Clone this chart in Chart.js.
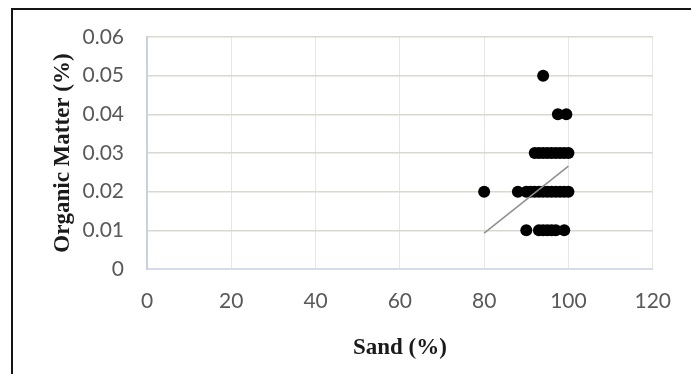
<!DOCTYPE html>
<html><head><meta charset="utf-8">
<script src="https://cdn.jsdelivr.net/npm/chart.js@4"></script>
<style>
html,body{margin:0;padding:0;background:#fff;width:691px;height:374px;overflow:hidden}
#wrap{position:absolute;left:0;top:0;width:691px;height:374px}
#frame{position:absolute;left:11px;top:8px;width:680px;height:366px;border-left:2px solid #151515;border-top:2px solid #151515;box-sizing:border-box;pointer-events:none}
</style></head><body>
<div id="wrap"><canvas id="c" width="691" height="374"></canvas></div>
<div id="frame"></div>
<script>
// Organic matter levels and sand values observed at each level
const omLevels = [0.01, 0.02, 0.03, 0.04, 0.05];
const sandAt001 = [90, 93, 94, 95, 96, 97, 99];
const sandAt002 = [80, 88, 90, 91, 92, 93, 94, 95, 96, 97, 98, 99, 100];
const sandAt003 = [92, 93, 94, 95, 96, 97, 98, 99, 100];
const sandAt004 = [97.5, 99.5];
const sandAt005 = [94];
const sandByLevel = [sandAt001, sandAt002, sandAt003, sandAt004, sandAt005];
// Linear trendline end points
const trendSand = [80, 100];
const trendOM = [0.0093, 0.0266];
// Axis ticks
const xTicks = [0, 20, 40, 60, 80, 100, 120];
const yTicks = [0, 0.01, 0.02, 0.03, 0.04, 0.05, 0.06];

const points = [];
sandByLevel.forEach((arr, i) => arr.forEach(s => points.push({x: s, y: omLevels[i]})));
const trend = trendSand.map((s, i) => ({x: s, y: trendOM[i]}));

const tickFont = {family: 'Lato', size: 21};
const titleFont = {family: 'Liberation Serif', size: 23, weight: 'bold'};

new Chart(document.getElementById('c'), {
  type: 'scatter',
  data: {
    datasets: [
      {label: 'Trend', data: trend, showLine: true, pointRadius: 0, borderColor: '#8f8f8f', borderWidth: 1.5, fill: false},
      {label: 'Organic Matter', data: points, pointRadius: 6, pointBackgroundColor: '#000', pointBorderColor: '#000', pointBorderWidth: 0}
    ]
  },
  options: {
    responsive: false,
    animation: false,
    layout: {padding: {top: 37, right: 36, left: 0, bottom: 0}},
    plugins: {legend: {display: false}, tooltip: {enabled: false}},
    scales: {
      x: {
        type: 'linear', min: xTicks[0], max: xTicks[xTicks.length - 1],
        afterBuildTicks: s => { s.ticks = xTicks.map(v => ({value: v})); },
        ticks: {font: tickFont, color: '#595959', padding: 20, maxRotation: 0},
        grid: {color: '#e4e6ea', lineWidth: 1, drawTicks: false},
        border: {color: '#d3dce8', width: 2},
        title: {display: true, text: 'Sand (%)', font: titleFont, color: '#1a1a1a', padding: {top: 0, bottom: 12}},
        afterFit: s => { s.height = 105; }
      },
      y: {
        type: 'linear', min: yTicks[0], max: yTicks[yTicks.length - 1],
        afterBuildTicks: s => { s.ticks = yTicks.map(v => ({value: v})); },
        ticks: {font: tickFont, color: '#595959', padding: 23, callback: v => v === 0 ? '0' : v.toFixed(2)},
        grid: {color: '#d9d9cd', lineWidth: 1.5, drawTicks: false},
        border: {color: '#c8d2df', width: 2},
        title: {display: true, text: 'Organic Matter (%)', font: titleFont, color: '#1a1a1a', padding: {top: 49, bottom: 0}},
        afterFit: s => { s.width = 147; }
      }
    }
  }
});
</script>
</body></html>
